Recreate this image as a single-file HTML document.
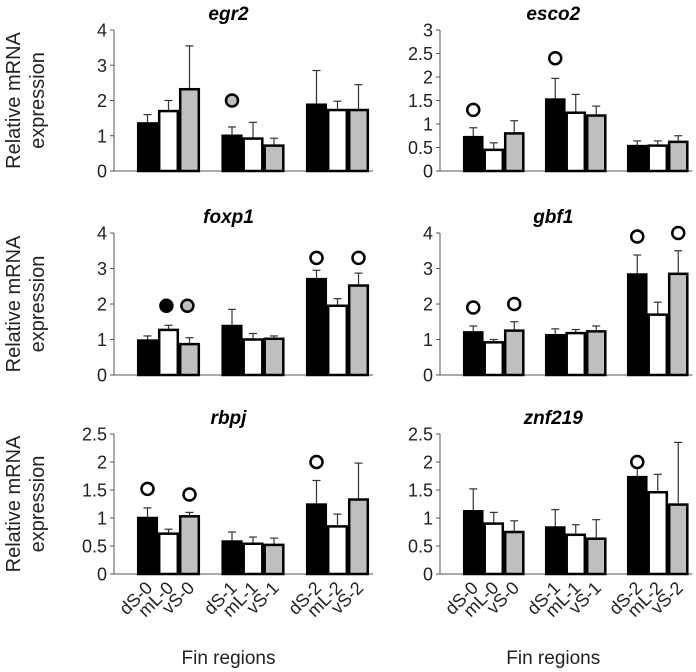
<!DOCTYPE html>
<html><head><meta charset="utf-8"><style>
body{margin:0;background:#fff;}
svg{display:block;font-family:"Liberation Sans",sans-serif;}
</style></head><body>
<svg id="c" width="696" height="672"></svg>
<script>
const groups = ["0","1","2"];
const regions = ["dS","mL","vS"];
const genes = ["egr2","esco2","foxp1","gbf1","rbpj","znf219"];
const maxes = [4,3,4,4,2.5,2.5];
const ticksA = [[0,1,2,3,4],[0,0.5,1,1.5,2,2.5,3],[0,1,2,3,4],[0,1,2,3,4],[0,0.5,1,1.5,2,2.5],[0,0.5,1,1.5,2,2.5]];
const means = [
 [1.35,1.7,2.32, 1.0,0.92,0.72, 1.88,1.73,1.73],
 [0.72,0.45,0.8, 1.52,1.24,1.18, 0.53,0.54,0.62],
 [0.97,1.27,0.87, 1.38,1.0,1.02, 2.7,1.95,2.52],
 [1.2,0.92,1.25, 1.12,1.18,1.23, 2.83,1.7,2.85],
 [1.0,0.72,1.03, 0.58,0.54,0.52, 1.24,0.85,1.33],
 [1.12,0.9,0.75, 0.83,0.7,0.63, 1.73,1.46,1.24]];
const errTops = [
 [1.6,2.0,3.55, 1.25,1.38,0.93, 2.85,1.98,2.45],
 [0.92,0.6,1.07, 1.97,1.63,1.38, 0.64,0.64,0.75],
 [1.1,1.4,1.05, 1.85,1.17,1.1, 2.95,2.15,2.87],
 [1.38,1.0,1.5, 1.3,1.28,1.38, 3.38,2.05,3.5],
 [1.18,0.8,1.1, 0.75,0.66,0.64, 1.67,1.07,1.98],
 [1.52,1.1,0.95, 1.15,0.88,0.97, 2.05,1.78,2.35]];
const markers = [
 [[3,2.0,"gray"]],
 [[0,1.3,"open"],[3,2.4,"open"]],
 [[0.9,1.95,"black"],[1.9,1.95,"gray"],[6,3.3,"open"],[8,3.3,"open"]],
 [[0,1.9,"open"],[2,2.0,"open"],[6,3.9,"open"],[8,4.0,"open"]],
 [[0,1.52,"open"],[2,1.42,"open"],[6,2.0,"open"]],
 [[6,2.0,"open"]]];
const NS="http://www.w3.org/2000/svg";
const svg=document.getElementById('c');
function mk(t,a,p){const e=document.createElementNS(NS,t);for(const k in a)e.setAttribute(k,a[k]);(p||svg).appendChild(e);return e;}
const rowTop=[30,233,434], rowBase=[171,375,574];
const colAxis=[114,440], colBar0=[137,463], colGap=[84.5,82], barW=[21,20.5];
const titleOff=[-15,-13];
const fills=["#000","#fff","#bfbfbf"];
genes.forEach((g,gi)=>{
 const r=Math.floor(gi/2), c=gi%2;
 const grp=mk('g',{});
 
 
 const top=rowTop[r], base=rowBase[r], ax=colAxis[c];
 const y=v=>base-(v/maxes[gi])*(base-top);
 const bx=i=>colBar0[c]+Math.floor(i/3)*colGap[c]+(i%3)*barW[c];
 const right=bx(8)+barW[c]+4;
 const cxT=(ax+right)/2+titleOff[c];
 const t=mk('text',{x:cxT,y:top-10,'text-anchor':'middle','font-size':19,'font-weight':'bold','font-style':'italic'},grp);
 t.textContent=g;
 
 
 mk('line',{x1:ax,y1:top,x2:ax,y2:base,stroke:'#555','stroke-width':1},grp);
 mk('line',{x1:ax,y1:base,x2:right,y2:base,stroke:'#555','stroke-width':1},grp);
 ticksA[gi].forEach(v=>{
  mk('line',{x1:ax-4,y1:y(v),x2:ax,y2:y(v),stroke:'#555'},grp);
  const tl=mk('text',{x:ax-7,y:y(v)+6.5,'text-anchor':'end','font-size':18,fill:'#222'},grp);
  tl.textContent=String(v);
  
  
 });
 means[gi].forEach((m,i)=>{
  const x=bx(i);
  const e=errTops[gi][i], cx=x+barW[c]/2;
  mk('line',{x1:cx,y1:y(m),x2:cx,y2:y(e),stroke:'#333','stroke-width':1.2},grp);
  mk('line',{x1:cx-4,y1:y(e),x2:cx+4,y2:y(e),stroke:'#333','stroke-width':1.2},grp);
  const b=mk('rect',{x:x+1.2,y:y(m),width:barW[c]-2.4,height:base-y(m),fill:fills[i%3],stroke:'#000','stroke-width':2.5},grp);
  
  
 });
 markers[gi].forEach(mm=>{
  const cx=bx(Math.floor(mm[0]))+(mm[0]%1)*barW[c]+barW[c]/2;
  const f=mm[2]==="open"?"#fff":(mm[2]==="gray"?"#bfbfbf":"#000");
  const ci=mk('circle',{cx:cx,cy:y(mm[1]),r:6,fill:f,stroke:'#000','stroke-width':2.5},grp);
  
  
 });
 if(c===0){
  const yt=mk('text',{transform:`translate(0,${(top+base)/2}) rotate(-90)`,'text-anchor':'middle','font-size':20,fill:'#222'},grp);
  
  
  const a=mk('tspan',{x:0,y:20},yt);a.textContent='Relative mRNA';
  const b2=mk('tspan',{x:0,y:44},yt);b2.textContent='expression';
 }
 if(r===2){
  for(let i=0;i<9;i++){
   const cx=bx(i)+barW[c]/2+6, ly=base+15;
   const tl=mk('text',{transform:`translate(${cx},${ly}) rotate(-45)`,'text-anchor':'end','font-size':18,fill:'#222'},grp);
   tl.textContent=regions[i%3]+'-'+groups[Math.floor(i/3)];
   
   
  }
  const xt=mk('text',{x:cxT,y:664,'text-anchor':'middle','font-size':19,fill:'#222'},grp);
  xt.textContent='Fin regions';
  
  
 }
});
</script>
</body></html>
